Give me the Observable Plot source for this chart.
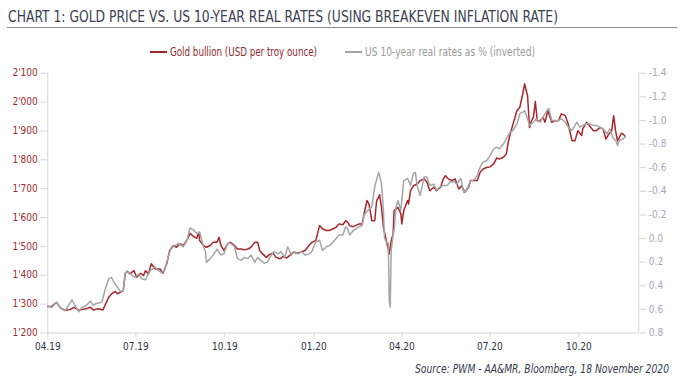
<!DOCTYPE html>
<html><head><meta charset="utf-8">
<script src="https://cdn.jsdelivr.net/npm/d3@7"></script>
<script src="https://cdn.jsdelivr.net/npm/@observablehq/plot@0.6"></script>
<style>
body{margin:0;background:#fff;}
#wrap{position:relative;width:684px;height:382px;overflow:hidden;font-family:"DejaVu Sans Condensed","DejaVu Sans",sans-serif;font-stretch:condensed;}
.fit{position:absolute;white-space:nowrap;transform-origin:0 50%;}
#title{left:8px;top:8px;font-size:15.5px;line-height:18px;color:#3b4050;}
#rule{position:absolute;left:7px;top:27px;width:670px;height:0;border-top:1.5px solid #8a8a8a;}
.sw{position:absolute;top:51px;width:17px;height:0;border-top:2px solid;}
.leg{top:45px;font-size:12px;line-height:14px;}
#chart{position:absolute;left:0;top:60px;}
#source{top:362px;font-size:12px;line-height:14px;font-style:italic;color:#363c4c;}
</style>
</head><body>
<div id="wrap">
  <div id="title" class="fit" data-w="550">CHART 1: GOLD PRICE VS. US 10-YEAR REAL RATES (USING BREAKEVEN INFLATION RATE)</div>
  <div id="rule"></div>
  <span class="sw" style="left:150px;border-color:#a8262b"></span>
  <div class="fit leg" style="left:170px;color:#8e2a2e" data-w="147">Gold bullion (USD per troy ounce)</div>
  <span class="sw" style="left:345px;border-color:#a5a5a5"></span>
  <div class="fit leg" style="left:365px;color:#9a9a9a" data-w="170">US 10-year real rates as % (inverted)</div>
  <div id="chart"></div>
  <div id="source" class="fit" style="left:415px" data-w="254">Source: PWM - AA&amp;MR, Bloomberg, 18 November 2020</div>
</div>
<script>
const goldDates = ["2019-04-01","2019-04-05","2019-04-10","2019-04-14","2019-04-19","2019-04-24","2019-04-28","2019-05-03","2019-05-06","2019-05-11","2019-05-15","2019-05-18","2019-05-23","2019-05-28","2019-05-30","2019-06-03","2019-06-06","2019-06-10","2019-06-12","2019-06-15","2019-06-18","2019-06-20","2019-06-22","2019-06-25","2019-06-29","2019-07-02","2019-07-06","2019-07-09","2019-07-11","2019-07-14","2019-07-17","2019-07-21","2019-07-26","2019-07-29","2019-08-02","2019-08-05","2019-08-09","2019-08-12","2019-08-16","2019-08-19","2019-08-23","2019-08-26","2019-08-30","2019-09-02","2019-09-04","2019-09-05","2019-09-09","2019-09-12","2019-09-16","2019-09-19","2019-09-23","2019-09-25","2019-09-27","2019-09-30","2019-10-04","2019-10-07","2019-10-11","2019-10-14","2019-10-18","2019-10-21","2019-10-25","2019-10-28","2019-11-01","2019-11-04","2019-11-06","2019-11-09","2019-11-13","2019-11-16","2019-11-20","2019-11-23","2019-11-27","2019-11-30","2019-12-04","2019-12-07","2019-12-11","2019-12-14","2019-12-18","2019-12-23","2019-12-27","2019-12-30","2020-01-03","2020-01-07","2020-01-10","2020-01-14","2020-01-17","2020-01-21","2020-01-24","2020-01-27","2020-01-31","2020-02-03","2020-02-05","2020-02-07","2020-02-10","2020-02-13","2020-02-17","2020-02-20","2020-02-22","2020-02-25","2020-02-27","2020-03-01","2020-03-04","2020-03-06","2020-03-08","2020-03-09","2020-03-11","2020-03-13","2020-03-16","2020-03-19","2020-03-21","2020-03-23","2020-03-24","2020-03-28","2020-03-31","2020-04-01","2020-04-03","2020-04-07","2020-04-08","2020-04-10","2020-04-13","2020-04-17","2020-04-20","2020-04-24","2020-04-27","2020-04-30","2020-05-04","2020-05-07","2020-05-11","2020-05-14","2020-05-16","2020-05-19","2020-05-23","2020-05-26","2020-05-30","2020-06-02","2020-06-05","2020-06-09","2020-06-11","2020-06-14","2020-06-18","2020-06-21","2020-06-24","2020-06-28","2020-07-01","2020-07-05","2020-07-08","2020-07-11","2020-07-15","2020-07-18","2020-07-20","2020-07-22","2020-07-25","2020-07-29","2020-08-01","2020-08-04","2020-08-06","2020-08-08","2020-08-09","2020-08-11","2020-08-13","2020-08-15","2020-08-17","2020-08-19","2020-08-22","2020-08-25","2020-08-27","2020-08-30","2020-09-03","2020-09-06","2020-09-10","2020-09-13","2020-09-17","2020-09-20","2020-09-24","2020-09-27","2020-09-30","2020-10-04","2020-10-05","2020-10-09","2020-10-12","2020-10-16","2020-10-19","2020-10-23","2020-10-26","2020-10-29","2020-11-01","2020-11-04","2020-11-06","2020-11-08","2020-11-10","2020-11-12","2020-11-14","2020-11-16","2020-11-18"];
const goldPrice = [1292,1292,1306,1287,1278,1281,1289,1279,1281,1284,1289,1280,1284,1280,1295,1324,1336,1344,1336,1341,1347,1405,1414,1405,1416,1393,1407,1399,1416,1405,1440,1422,1422,1407,1440,1486,1503,1497,1509,1503,1522,1545,1534,1528,1549,1520,1503,1497,1503,1514,1514,1532,1503,1486,1509,1514,1503,1491,1491,1488,1491,1497,1514,1514,1486,1474,1462,1472,1476,1462,1457,1465,1460,1468,1480,1476,1480,1486,1503,1514,1520,1572,1561,1555,1555,1561,1566,1578,1575,1589,1584,1572,1568,1572,1578,1578,1613,1659,1647,1589,1589,1659,1670,1679,1635,1566,1520,1474,1520,1543,1624,1635,1613,1578,1624,1659,1647,1693,1710,1716,1728,1734,1722,1693,1705,1693,1705,1734,1745,1734,1728,1734,1699,1710,1687,1705,1728,1728,1728,1757,1768,1774,1775,1786,1806,1803,1809,1820,1860,1889,1924,1970,1982,2028,2063,2034,2022,1912,1935,1947,2002,1935,1935,1947,1930,1970,1930,1935,1935,1959,1953,1924,1866,1866,1901,1884,1907,1930,1918,1901,1901,1912,1907,1872,1889,1901,1953,1901,1866,1878,1892,1889,1880];

const rateDates = ["2019-04-01","2019-04-05","2019-04-10","2019-04-14","2019-04-19","2019-04-26","2019-04-29","2019-05-03","2019-05-06","2019-05-11","2019-05-15","2019-05-18","2019-05-21","2019-05-27","2019-05-30","2019-06-03","2019-06-06","2019-06-09","2019-06-12","2019-06-15","2019-06-18","2019-06-20","2019-06-23","2019-06-27","2019-06-30","2019-07-04","2019-07-07","2019-07-11","2019-07-12","2019-07-16","2019-07-21","2019-07-24","2019-07-28","2019-07-31","2019-08-04","2019-08-07","2019-08-11","2019-08-14","2019-08-19","2019-08-23","2019-08-26","2019-08-30","2019-09-02","2019-09-05","2019-09-09","2019-09-11","2019-09-12","2019-09-16","2019-09-19","2019-09-23","2019-09-27","2019-09-30","2019-10-04","2019-10-07","2019-10-11","2019-10-14","2019-10-18","2019-10-21","2019-10-25","2019-10-28","2019-11-01","2019-11-04","2019-11-07","2019-11-11","2019-11-14","2019-11-18","2019-11-21","2019-11-25","2019-11-28","2019-12-02","2019-12-05","2019-12-09","2019-12-12","2019-12-16","2019-12-19","2019-12-23","2019-12-27","2019-12-30","2020-01-03","2020-01-07","2020-01-10","2020-01-14","2020-01-17","2020-01-21","2020-01-24","2020-01-27","2020-01-31","2020-02-03","2020-02-05","2020-02-07","2020-02-10","2020-02-13","2020-02-17","2020-02-20","2020-02-22","2020-02-26","2020-03-01","2020-03-04","2020-03-08","2020-03-09","2020-03-11","2020-03-13","2020-03-14","2020-03-16","2020-03-18","2020-03-19","2020-03-20","2020-03-21","2020-03-23","2020-03-24","2020-03-26","2020-03-28","2020-03-31","2020-04-03","2020-04-07","2020-04-10","2020-04-13","2020-04-15","2020-04-17","2020-04-20","2020-04-24","2020-04-27","2020-04-30","2020-05-04","2020-05-07","2020-05-11","2020-05-14","2020-05-18","2020-05-21","2020-05-25","2020-05-28","2020-06-01","2020-06-04","2020-06-07","2020-06-11","2020-06-14","2020-06-18","2020-06-21","2020-06-24","2020-06-28","2020-07-01","2020-07-05","2020-07-08","2020-07-11","2020-07-15","2020-07-18","2020-07-22","2020-07-25","2020-07-29","2020-08-01","2020-08-04","2020-08-06","2020-08-09","2020-08-11","2020-08-15","2020-08-18","2020-08-22","2020-08-25","2020-08-29","2020-08-31","2020-09-03","2020-09-06","2020-09-10","2020-09-13","2020-09-17","2020-09-20","2020-09-24","2020-09-27","2020-09-29","2020-10-02","2020-10-05","2020-10-09","2020-10-12","2020-10-16","2020-10-19","2020-10-23","2020-10-26","2020-10-30","2020-11-02","2020-11-05","2020-11-09","2020-11-10","2020-11-12","2020-11-16","2020-11-18"];
const realRate = [0.57,0.585,0.54,0.59,0.61,0.52,0.565,0.62,0.585,0.565,0.53,0.565,0.55,0.54,0.44,0.34,0.33,0.38,0.41,0.45,0.44,0.29,0.28,0.31,0.33,0.30,0.34,0.35,0.33,0.27,0.24,0.27,0.29,0.26,0.14,0.07,0.06,0.04,0.07,0.01,-0.09,-0.07,-0.04,-0.055,0.07,0.11,0.20,0.17,0.14,0.09,0.14,0.13,0.04,0.04,0.07,0.17,0.185,0.16,0.17,0.14,0.20,0.16,0.185,0.21,0.20,0.14,0.11,0.13,0.11,0.16,0.07,0.14,0.11,0.13,0.11,0.14,0.13,0.11,0.03,0.015,0.10,0.07,0.06,0.03,0.00,-0.03,-0.03,-0.10,-0.08,-0.03,-0.06,-0.08,-0.10,-0.11,-0.20,-0.24,-0.27,-0.44,-0.56,-0.535,-0.46,-0.24,-0.01,0.03,0.04,0.52,0.58,0.10,-0.03,-0.07,-0.27,-0.32,-0.24,-0.49,-0.51,-0.45,-0.55,-0.56,-0.44,-0.365,-0.52,-0.52,-0.45,-0.46,-0.41,-0.44,-0.45,-0.45,-0.48,-0.48,-0.46,-0.51,-0.39,-0.41,-0.49,-0.49,-0.535,-0.605,-0.647,-0.661,-0.70,-0.76,-0.774,-0.76,-0.80,-0.845,-0.90,-0.915,-0.97,-1.057,-1.07,-1.084,-1.014,-0.958,-0.985,-1.014,-0.985,-1.028,-1.084,-1.10,-1.0,-1.0,-1.0,-1.014,-0.985,-0.943,-0.915,-0.958,-0.985,-0.943,-0.958,-0.972,-0.972,-0.958,-0.958,-0.943,-0.929,-0.887,-0.929,-0.859,-0.816,-0.788,-0.831,-0.845,-0.864];

const xTickLabels = ["2019-04-01","2019-07-01","2019-10-01","2020-01-01","2020-04-01","2020-07-01","2020-10-01"];
const goldTicks = [1200,1300,1400,1500,1600,1700,1800,1900,2000,2100];
const rateTicks = [-1.4,-1.2,-1.0,-0.8,-0.6,-0.4,-0.2,0.0,0.2,0.4,0.6,0.8];

const parse = d3.utcParse("%Y-%m-%d");
const gold = goldDates.map((d, i) => ({date: parse(d), value: goldPrice[i]}));
const rates = rateDates.map((d, i) => ({date: parse(d), value: realRate[i]}));

// right (inverted) axis: -1.4 at top (=2100), 0.8 at bottom (=1200)
const rateToGold = d3.scaleLinear().domain([-1.4, 0.8]).range([2100, 1200]);
const loc = d3.formatLocale({decimal: ".", thousands: "'", grouping: [3], currency: ["", ""], minus: "-"});
const fmtGold = loc.format(",");
const fmtRate = loc.format(".1f");
const fmtMonth = d3.utcFormat("%m.%y");

const font = '"DejaVu Sans Condensed","DejaVu Sans",sans-serif';
const axisGray = "#d6d6d6";

const chart = Plot.plot({
  width: 684,
  height: 300,
  marginLeft: 47.3,
  marginRight: 45.7,
  marginTop: 12.7,
  marginBottom: 27.5,
  style: {fontFamily: font, fontSize: "10px", background: "white", fontStretch: "condensed"},
  x: {type: "utc", domain: [parse("2019-04-01"), parse("2020-12-02")]},
  y: {domain: [1200, 2100]},
  marks: [
    Plot.ruleX([parse("2019-04-01")], {stroke: axisGray, strokeWidth: 1}),
    Plot.ruleX([parse("2020-12-02")], {stroke: axisGray, strokeWidth: 1}),
    Plot.ruleY([1200], {stroke: axisGray, strokeWidth: 1}),
    Plot.axisY({ticks: goldTicks, tickFormat: fmtGold, tickSize: 7, tickPadding: 3, stroke: axisGray, fill: "#9b2c30", label: null}),
    Plot.axisY(rateTicks.map(r => rateToGold(r)), {anchor: "right", tickFormat: d => fmtRate(Math.round(rateToGold.invert(d) * 10) / 10 + 0), tickSize: 7, tickPadding: 3, stroke: axisGray, fill: "#a3a8b8", label: null}),
    Plot.axisX({ticks: xTickLabels.map(parse), tickFormat: fmtMonth, tickSize: 5, tickPadding: 5, stroke: axisGray, fill: "#2e3446", label: null}),
    Plot.lineY(gold, {x: "date", y: "value", stroke: "#a8262b", strokeWidth: 1.5}),
    Plot.lineY(rates, {x: "date", y: d => rateToGold(d.value), stroke: "#a5a5a5", strokeWidth: 1.5})
  ]
});
document.getElementById("chart").appendChild(chart);

// squeeze HTML texts horizontally to the condensed widths of the original
document.querySelectorAll(".fit").forEach(el => {
  const w = el.getBoundingClientRect().width;
  const target = +el.dataset.w;
  if (w > 0 && target) el.style.transform = `scaleX(${target / w})`;
});
</script>
</body></html>
